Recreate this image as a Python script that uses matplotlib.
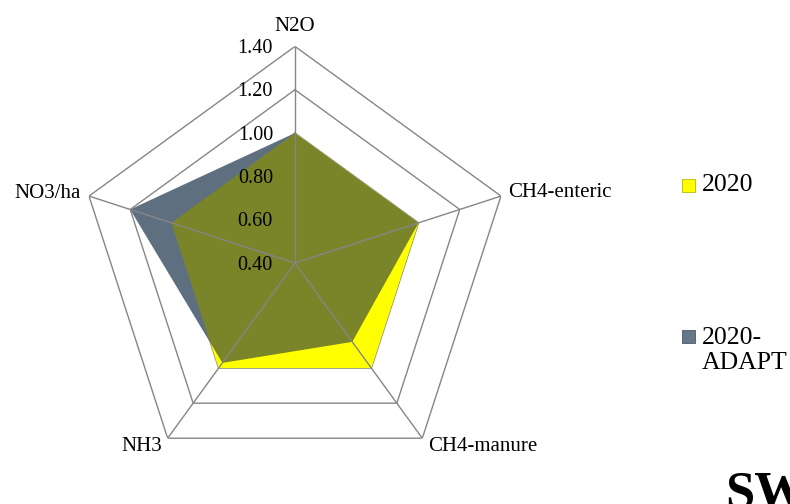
"""Radar chart: 2020 vs 2020-ADAPT emissions (relative values)"""
import numpy as np
import matplotlib.pyplot as plt
from matplotlib.patches import Rectangle
from matplotlib.transforms import offset_copy

# axes of the radar, clockwise from the top
categories = ['N2O', 'CH4-enteric', 'CH4-manure', 'NH3', 'NO3/ha']
series_names = ['2020', '2020-\nADAPT']
v2020 = [1.00, 1.00, 1.00, 1.00, 1.00]
vadapt = [1.00, 1.00, 0.85, 0.97, 1.20]
levels = [0.40, 0.60, 0.80, 1.00, 1.20, 1.40]

plt.rcParams['font.family'] = ['Liberation Serif', 'DejaVu Serif']

fig = plt.figure(figsize=(7.9, 5.04), dpi=100)
ax = fig.add_axes([0.0992, 0.0484, 0.5484, 0.8595], projection='polar')
ax.set_theta_zero_location('N')
ax.set_theta_direction(-1)
ax.set_ylim(levels[0], levels[-1])
ax.axis('off')

n = len(categories)
theta = np.linspace(0, 2 * np.pi, n, endpoint=False)
th = np.append(theta, theta[0])

def closed(v):
    return list(v) + [v[0]]

grid_col = '#868686'
# pentagon gridlines (behind the fills)
for lv in levels[1:]:
    ax.plot(th, [lv] * (n + 1), color=grid_col, lw=1.0, zorder=1)

# gray series seen alone, yellow series, then the gray tint over both
ax.fill(th, closed(vadapt), color='#BBCDDC', lw=0, zorder=2)
ax.fill(th, closed(v2020), color='#FFFF00', lw=0, zorder=3)
ax.fill(th, closed(vadapt), color='#213243', alpha=0.6, lw=0, zorder=4)

# spokes on top
for t in theta:
    ax.plot([t, t], [levels[0], levels[-1]], color=grid_col, lw=1.0, zorder=5)

# radial tick labels along the N2O axis
tr = offset_copy(ax.transData, fig=fig, x=-22, y=-2, units='dots')
for lv in levels:
    ax.text(0, lv, '%.2f' % lv, transform=tr, ha='right', va='center',
            fontsize=14.5, zorder=6)

# category labels
offs = [(0, 20, 'center'), (7, 4, 'left'), (6, -8, 'left'),
        (-6, -8, 'right'), (-8, 3, 'right')]
for t, lab, (dx, dy, ha) in zip(theta, categories, offs):
    trl = offset_copy(ax.transData, fig=fig, x=dx, y=dy, units='dots')
    ax.text(t, levels[-1], lab, transform=trl, ha=ha, va='center', fontsize=15)

# legend, drawn by hand
W, H = 790., 504.
mk_cols = ['#FFFF00', '#66778A']
mk_edges = ['#B8B800', '#4A5868']
mk_y = [179, 330]
txt_y = [174, 327]
for name, c, ec, y, ty in zip(series_names, mk_cols, mk_edges, mk_y, txt_y):
    fig.patches.append(Rectangle((682 / W, 1 - (y + 13) / H), 13 / W, 13 / H,
                                 transform=fig.transFigure, facecolor=c,
                                 edgecolor=ec, lw=0.6))
    fig.text(702 / W, 1 - ty / H, name, ha='left', va='top',
             fontsize=18.5, linespacing=1.2)

fig.text(725 / W, -4 / H, 'SW', ha='left', va='baseline', fontsize=38,
         fontweight='bold')

fig.savefig('out.png', dpi=100)
